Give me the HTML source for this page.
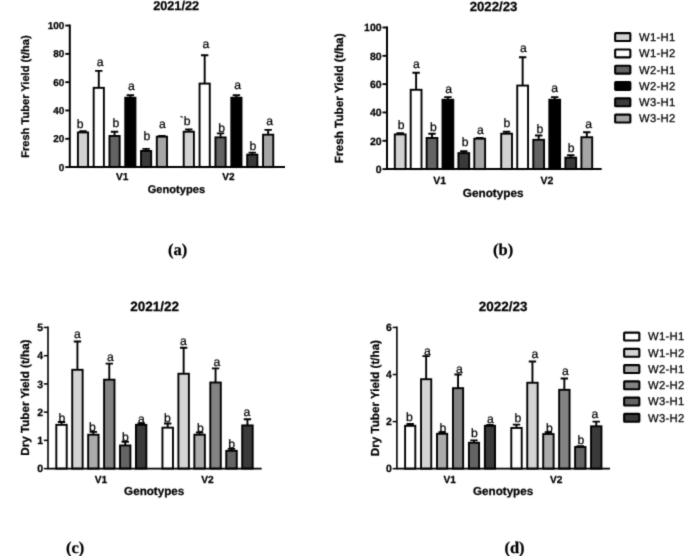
<!DOCTYPE html>
<html lang="en"><head><meta charset="utf-8"><title>Tuber yield charts</title>
<style>
html,body{margin:0;padding:0;background:#fff;}
body{width:685px;height:556px;overflow:hidden;}
svg{display:block;font-family:"Liberation Sans", Arial, sans-serif;fill:#000;text-rendering:geometricPrecision;}
text{stroke:#000;stroke-width:0.25px;}
</style></head><body>
<svg width="685" height="556" viewBox="0 0 685 556">
<defs><filter id="soft" x="0" y="0" width="685" height="556" filterUnits="userSpaceOnUse" color-interpolation-filters="sRGB"><feConvolveMatrix order="3" kernelMatrix="0.0192 0.1001 0.0192 0.1001 0.5228 0.1001 0.0192 0.1001 0.0192" divisor="1" edgeMode="duplicate" preserveAlpha="true"/></filter></defs>
<g filter="url(#soft)">
<rect width="685" height="556" fill="#fff"/>
<g>
<path d="M83.00 132.42V131.29M79.30 131.29H86.70" stroke="#000" stroke-width="1.9" fill="none"/>
<rect x="77.90" y="132.42" width="10.20" height="34.68" fill="#d2d2d2" stroke="#000" stroke-width="1.9"/>
<path d="M98.78 87.84V70.85M95.08 70.85H102.48" stroke="#000" stroke-width="1.9" fill="none"/>
<rect x="93.68" y="87.84" width="10.20" height="79.26" fill="#ffffff" stroke="#000" stroke-width="1.9"/>
<path d="M114.56 135.96V131.72M110.86 131.72H118.26" stroke="#000" stroke-width="1.9" fill="none"/>
<rect x="109.46" y="135.96" width="10.20" height="31.14" fill="#636363" stroke="#000" stroke-width="1.9"/>
<path d="M130.34 97.75V95.20M126.64 95.20H134.04" stroke="#000" stroke-width="1.9" fill="none"/>
<rect x="125.24" y="97.75" width="10.20" height="69.35" fill="#000000" stroke="#000" stroke-width="1.9"/>
<path d="M146.12 150.96V148.84M142.42 148.84H149.82" stroke="#000" stroke-width="1.9" fill="none"/>
<rect x="141.02" y="150.96" width="10.20" height="16.14" fill="#3a3a3a" stroke="#000" stroke-width="1.9"/>
<path d="M161.90 136.67V135.96M158.20 135.96H165.60" stroke="#000" stroke-width="1.9" fill="none"/>
<rect x="156.80" y="136.67" width="10.20" height="30.43" fill="#a6a6a6" stroke="#000" stroke-width="1.9"/>
<path d="M188.80 131.72V129.45M185.10 129.45H192.50" stroke="#000" stroke-width="1.9" fill="none"/>
<rect x="183.70" y="131.72" width="10.20" height="35.38" fill="#d2d2d2" stroke="#000" stroke-width="1.9"/>
<path d="M204.67 83.59V55.28M200.97 55.28H208.37" stroke="#000" stroke-width="1.9" fill="none"/>
<rect x="199.57" y="83.59" width="10.20" height="83.51" fill="#ffffff" stroke="#000" stroke-width="1.9"/>
<path d="M220.54 137.38V133.41M216.84 133.41H224.24" stroke="#000" stroke-width="1.9" fill="none"/>
<rect x="215.44" y="137.38" width="10.20" height="29.72" fill="#636363" stroke="#000" stroke-width="1.9"/>
<path d="M236.41 97.75V95.20M232.71 95.20H240.11" stroke="#000" stroke-width="1.9" fill="none"/>
<rect x="231.31" y="97.75" width="10.20" height="69.35" fill="#000000" stroke="#000" stroke-width="1.9"/>
<path d="M252.28 154.64V152.66M248.58 152.66H255.98" stroke="#000" stroke-width="1.9" fill="none"/>
<rect x="247.18" y="154.64" width="10.20" height="12.46" fill="#3a3a3a" stroke="#000" stroke-width="1.9"/>
<path d="M268.15 134.69V129.87M264.45 129.87H271.85" stroke="#000" stroke-width="1.9" fill="none"/>
<rect x="263.05" y="134.69" width="10.20" height="32.41" fill="#a6a6a6" stroke="#000" stroke-width="1.9"/>
<path d="M69.80 24.56V167.10M68.80 167.10H285.00" stroke="#000" stroke-width="2.0" fill="none"/>
<path d="M65.30 167.10H69.80" stroke="#000" stroke-width="1.90"/>
<text x="64.40" y="170.70" font-size="10.0" font-weight="700" text-anchor="end">0</text>
<path d="M65.30 138.79H69.80" stroke="#000" stroke-width="1.90"/>
<text x="64.40" y="142.39" font-size="10.0" font-weight="700" text-anchor="end">20</text>
<path d="M65.30 110.48H69.80" stroke="#000" stroke-width="1.90"/>
<text x="64.40" y="114.08" font-size="10.0" font-weight="700" text-anchor="end">40</text>
<path d="M65.30 82.18H69.80" stroke="#000" stroke-width="1.90"/>
<text x="64.40" y="85.78" font-size="10.0" font-weight="700" text-anchor="end">60</text>
<path d="M65.30 53.87H69.80" stroke="#000" stroke-width="1.90"/>
<text x="64.40" y="57.47" font-size="10.0" font-weight="700" text-anchor="end">80</text>
<path d="M65.30 25.56H69.80" stroke="#000" stroke-width="1.90"/>
<text x="64.40" y="29.16" font-size="10.0" font-weight="700" text-anchor="end">100</text>
<text x="176.1" y="10" font-size="12.7" font-weight="700" text-anchor="middle">2021/22</text>
<text transform="translate(29 96.6) rotate(-90)" font-size="11.1" font-weight="700" text-anchor="middle">Fresh Tuber Yield (t/ha)</text>
<text x="176.4" y="193" font-size="11.1" font-weight="700" text-anchor="middle">Genotypes</text>
<text x="122.2" y="180.4" font-size="10.1" font-weight="700" text-anchor="middle">V1</text>
<text x="228.5" y="180.4" font-size="10.1" font-weight="700" text-anchor="middle">V2</text>
<text x="80.2" y="127.5" font-size="12.2" text-anchor="middle" stroke="#000" stroke-width="0.25">b</text>
<text x="100.2" y="65.5" font-size="12.2" text-anchor="middle" stroke="#000" stroke-width="0.25">a</text>
<text x="115.8" y="127.4" font-size="12.2" text-anchor="middle" stroke="#000" stroke-width="0.25">b</text>
<text x="131.5" y="90" font-size="12.2" text-anchor="middle" stroke="#000" stroke-width="0.25">a</text>
<text x="147" y="140" font-size="12.2" text-anchor="middle" stroke="#000" stroke-width="0.25">b</text>
<text x="162.5" y="128.1" font-size="12.2" text-anchor="middle" stroke="#000" stroke-width="0.25">a</text>
<text x="185.2" y="124.7" font-size="12.2" text-anchor="middle" stroke="#000" stroke-width="0.25">`b</text>
<text x="205.9" y="47.5" font-size="12.2" text-anchor="middle" stroke="#000" stroke-width="0.25">a</text>
<text x="221.7" y="131.7" font-size="12.2" text-anchor="middle" stroke="#000" stroke-width="0.25">b</text>
<text x="237.7" y="89.2" font-size="12.2" text-anchor="middle" stroke="#000" stroke-width="0.25">a</text>
<text x="253" y="150" font-size="12.2" text-anchor="middle" stroke="#000" stroke-width="0.25">b</text>
<text x="269.7" y="124.9" font-size="12.2" text-anchor="middle" stroke="#000" stroke-width="0.25">a</text>
</g>
<g>
<path d="M400.20 134.41V133.28M396.50 133.28H403.90" stroke="#000" stroke-width="1.9" fill="none"/>
<rect x="394.80" y="134.41" width="10.80" height="34.69" fill="#d2d2d2" stroke="#000" stroke-width="1.9"/>
<path d="M416.10 89.80V72.81M412.40 72.81H419.80" stroke="#000" stroke-width="1.9" fill="none"/>
<rect x="410.70" y="89.80" width="10.80" height="79.30" fill="#ffffff" stroke="#000" stroke-width="1.9"/>
<path d="M432.00 137.95V133.70M428.30 133.70H435.70" stroke="#000" stroke-width="1.9" fill="none"/>
<rect x="426.60" y="137.95" width="10.80" height="31.15" fill="#636363" stroke="#000" stroke-width="1.9"/>
<path d="M447.90 99.72V97.17M444.20 97.17H451.60" stroke="#000" stroke-width="1.9" fill="none"/>
<rect x="442.50" y="99.72" width="10.80" height="69.38" fill="#000000" stroke="#000" stroke-width="1.9"/>
<path d="M463.80 153.10V151.12M460.10 151.12H467.50" stroke="#000" stroke-width="1.9" fill="none"/>
<rect x="458.40" y="153.10" width="10.80" height="16.00" fill="#3a3a3a" stroke="#000" stroke-width="1.9"/>
<path d="M479.70 138.66V137.95M476.00 137.95H483.40" stroke="#000" stroke-width="1.9" fill="none"/>
<rect x="474.30" y="138.66" width="10.80" height="30.44" fill="#a6a6a6" stroke="#000" stroke-width="1.9"/>
<path d="M506.60 133.70V131.72M502.90 131.72H510.30" stroke="#000" stroke-width="1.9" fill="none"/>
<rect x="501.20" y="133.70" width="10.80" height="35.40" fill="#d2d2d2" stroke="#000" stroke-width="1.9"/>
<path d="M522.64 85.56V57.24M518.94 57.24H526.34" stroke="#000" stroke-width="1.9" fill="none"/>
<rect x="517.24" y="85.56" width="10.80" height="83.54" fill="#ffffff" stroke="#000" stroke-width="1.9"/>
<path d="M538.68 139.79V135.54M534.98 135.54H542.38" stroke="#000" stroke-width="1.9" fill="none"/>
<rect x="533.28" y="139.79" width="10.80" height="29.31" fill="#636363" stroke="#000" stroke-width="1.9"/>
<path d="M554.72 99.72V97.17M551.02 97.17H558.42" stroke="#000" stroke-width="1.9" fill="none"/>
<rect x="549.32" y="99.72" width="10.80" height="69.38" fill="#000000" stroke="#000" stroke-width="1.9"/>
<path d="M570.76 157.63V155.22M567.06 155.22H574.46" stroke="#000" stroke-width="1.9" fill="none"/>
<rect x="565.36" y="157.63" width="10.80" height="11.47" fill="#3a3a3a" stroke="#000" stroke-width="1.9"/>
<path d="M586.80 137.24V132.28M583.10 132.28H590.50" stroke="#000" stroke-width="1.9" fill="none"/>
<rect x="581.40" y="137.24" width="10.80" height="31.86" fill="#a6a6a6" stroke="#000" stroke-width="1.9"/>
<path d="M387.00 26.50V169.10M386.00 169.10H601.70" stroke="#000" stroke-width="2.0" fill="none"/>
<path d="M382.50 169.10H387.00" stroke="#000" stroke-width="1.90"/>
<text x="381.60" y="172.88" font-size="10.5" font-weight="700" text-anchor="end">0</text>
<path d="M382.50 140.78H387.00" stroke="#000" stroke-width="1.90"/>
<text x="381.60" y="144.56" font-size="10.5" font-weight="700" text-anchor="end">20</text>
<path d="M382.50 112.46H387.00" stroke="#000" stroke-width="1.90"/>
<text x="381.60" y="116.24" font-size="10.5" font-weight="700" text-anchor="end">40</text>
<path d="M382.50 84.14H387.00" stroke="#000" stroke-width="1.90"/>
<text x="381.60" y="87.92" font-size="10.5" font-weight="700" text-anchor="end">60</text>
<path d="M382.50 55.82H387.00" stroke="#000" stroke-width="1.90"/>
<text x="381.60" y="59.60" font-size="10.5" font-weight="700" text-anchor="end">80</text>
<path d="M382.50 27.50H387.00" stroke="#000" stroke-width="1.90"/>
<text x="381.60" y="31.28" font-size="10.5" font-weight="700" text-anchor="end">100</text>
<text x="493.5" y="10.5" font-size="13.2" font-weight="700" text-anchor="middle">2022/23</text>
<text transform="translate(343.1 98.3) rotate(-90)" font-size="11.75" font-weight="700" text-anchor="middle">Fresh Tuber Yield (t/ha)</text>
<text x="493.2" y="197.3" font-size="11.75" font-weight="700" text-anchor="middle">Genotypes</text>
<text x="439.7" y="183.6" font-size="10.5" font-weight="700" text-anchor="middle">V1</text>
<text x="547" y="184" font-size="10.5" font-weight="700" text-anchor="middle">V2</text>
<text x="401.2" y="128.6" font-size="12.2" text-anchor="middle" stroke="#000" stroke-width="0.25">b</text>
<text x="416.5" y="67.7" font-size="12.2" text-anchor="middle" stroke="#000" stroke-width="0.25">a</text>
<text x="433.5" y="130.8" font-size="12.2" text-anchor="middle" stroke="#000" stroke-width="0.25">b</text>
<text x="448.7" y="92.9" font-size="12.2" text-anchor="middle" stroke="#000" stroke-width="0.25">a</text>
<text x="465.2" y="146.4" font-size="12.2" text-anchor="middle" stroke="#000" stroke-width="0.25">b</text>
<text x="480.3" y="133.7" font-size="12.2" text-anchor="middle" stroke="#000" stroke-width="0.25">a</text>
<text x="507" y="127.4" font-size="12.2" text-anchor="middle" stroke="#000" stroke-width="0.25">b</text>
<text x="523.4" y="51.9" font-size="12.2" text-anchor="middle" stroke="#000" stroke-width="0.25">a</text>
<text x="540" y="132.6" font-size="12.2" text-anchor="middle" stroke="#000" stroke-width="0.25">b</text>
<text x="554.7" y="91.7" font-size="12.2" text-anchor="middle" stroke="#000" stroke-width="0.25">a</text>
<text x="571.2" y="151.7" font-size="12.2" text-anchor="middle" stroke="#000" stroke-width="0.25">b</text>
<text x="588.7" y="128" font-size="12.2" text-anchor="middle" stroke="#000" stroke-width="0.25">a</text>
</g>
<g>
<rect x="615.15" y="33.15" width="15.2" height="7.9" rx="0.6" fill="#d2d2d2" stroke="#000" stroke-width="2.1"/>
<text x="639" y="40.90" font-size="11.3" letter-spacing="0.3" stroke="#000" stroke-width="0.2">W1-H1</text>
<rect x="615.15" y="49.45" width="15.2" height="7.9" rx="0.6" fill="#ffffff" stroke="#000" stroke-width="2.1"/>
<text x="639" y="57.20" font-size="11.3" letter-spacing="0.3" stroke="#000" stroke-width="0.2">W1-H2</text>
<rect x="615.15" y="65.75" width="15.2" height="7.9" rx="0.6" fill="#636363" stroke="#000" stroke-width="2.1"/>
<text x="639" y="73.50" font-size="11.3" letter-spacing="0.3" stroke="#000" stroke-width="0.2">W2-H1</text>
<rect x="615.15" y="82.05" width="15.2" height="7.9" rx="0.6" fill="#000000" stroke="#000" stroke-width="2.1"/>
<text x="639" y="89.80" font-size="11.3" letter-spacing="0.3" stroke="#000" stroke-width="0.2">W2-H2</text>
<rect x="615.15" y="98.35" width="15.2" height="7.9" rx="0.6" fill="#3a3a3a" stroke="#000" stroke-width="2.1"/>
<text x="639" y="106.10" font-size="11.3" letter-spacing="0.3" stroke="#000" stroke-width="0.2">W3-H1</text>
<rect x="615.15" y="114.65" width="15.2" height="7.9" rx="0.6" fill="#a6a6a6" stroke="#000" stroke-width="2.1"/>
<text x="639" y="122.40" font-size="11.3" letter-spacing="0.3" stroke="#000" stroke-width="0.2">W3-H2</text>
</g>
<g>
<path d="M61.50 424.84V422.02M57.80 422.02H65.20" stroke="#000" stroke-width="1.9" fill="none"/>
<rect x="56.30" y="424.84" width="10.40" height="43.76" fill="#ffffff" stroke="#000" stroke-width="1.9"/>
<path d="M77.43 369.80V341.56M73.73 341.56H81.13" stroke="#000" stroke-width="1.9" fill="none"/>
<rect x="72.23" y="369.80" width="10.40" height="98.81" fill="#d4d4d4" stroke="#000" stroke-width="1.9"/>
<path d="M93.36 434.72V431.90M89.66 431.90H97.06" stroke="#000" stroke-width="1.9" fill="none"/>
<rect x="88.16" y="434.72" width="10.40" height="33.88" fill="#ababab" stroke="#000" stroke-width="1.9"/>
<path d="M109.29 379.68V363.58M105.59 363.58H112.99" stroke="#000" stroke-width="1.9" fill="none"/>
<rect x="104.09" y="379.68" width="10.40" height="88.92" fill="#838383" stroke="#000" stroke-width="1.9"/>
<path d="M125.22 445.45V441.78M121.52 441.78H128.92" stroke="#000" stroke-width="1.9" fill="none"/>
<rect x="120.02" y="445.45" width="10.40" height="23.15" fill="#646464" stroke="#000" stroke-width="1.9"/>
<path d="M141.15 424.84V423.43M137.45 423.43H144.85" stroke="#000" stroke-width="1.9" fill="none"/>
<rect x="135.95" y="424.84" width="10.40" height="43.76" fill="#3a3a3a" stroke="#000" stroke-width="1.9"/>
<path d="M167.70 427.67V423.43M164.00 423.43H171.40" stroke="#000" stroke-width="1.9" fill="none"/>
<rect x="162.45" y="427.67" width="10.50" height="40.93" fill="#ffffff" stroke="#000" stroke-width="1.9"/>
<path d="M183.65 373.75V347.78M179.95 347.78H187.35" stroke="#000" stroke-width="1.9" fill="none"/>
<rect x="178.40" y="373.75" width="10.50" height="94.85" fill="#d4d4d4" stroke="#000" stroke-width="1.9"/>
<path d="M199.60 434.72V432.47M195.90 432.47H203.30" stroke="#000" stroke-width="1.9" fill="none"/>
<rect x="194.35" y="434.72" width="10.50" height="33.88" fill="#ababab" stroke="#000" stroke-width="1.9"/>
<path d="M215.55 382.50V368.38M211.85 368.38H219.25" stroke="#000" stroke-width="1.9" fill="none"/>
<rect x="210.30" y="382.50" width="10.50" height="86.10" fill="#838383" stroke="#000" stroke-width="1.9"/>
<path d="M231.50 450.82V448.84M227.80 448.84H235.20" stroke="#000" stroke-width="1.9" fill="none"/>
<rect x="226.25" y="450.82" width="10.50" height="17.78" fill="#646464" stroke="#000" stroke-width="1.9"/>
<path d="M247.45 425.41V419.20M243.75 419.20H251.15" stroke="#000" stroke-width="1.9" fill="none"/>
<rect x="242.20" y="425.41" width="10.50" height="43.19" fill="#3a3a3a" stroke="#000" stroke-width="1.9"/>
<path d="M48.00 326.45V468.60M47.20 468.60H261.70" stroke="#000" stroke-width="1.6" fill="none"/>
<path d="M43.80 468.60H48.00" stroke="#000" stroke-width="1.50"/>
<text x="43.00" y="472.38" font-size="10.5" font-weight="700" text-anchor="end">0</text>
<path d="M43.80 440.37H48.00" stroke="#000" stroke-width="1.50"/>
<text x="43.00" y="444.15" font-size="10.5" font-weight="700" text-anchor="end">1</text>
<path d="M43.80 412.14H48.00" stroke="#000" stroke-width="1.50"/>
<text x="43.00" y="415.92" font-size="10.5" font-weight="700" text-anchor="end">2</text>
<path d="M43.80 383.91H48.00" stroke="#000" stroke-width="1.50"/>
<text x="43.00" y="387.69" font-size="10.5" font-weight="700" text-anchor="end">3</text>
<path d="M43.80 355.68H48.00" stroke="#000" stroke-width="1.50"/>
<text x="43.00" y="359.46" font-size="10.5" font-weight="700" text-anchor="end">4</text>
<path d="M43.80 327.45H48.00" stroke="#000" stroke-width="1.50"/>
<text x="43.00" y="331.23" font-size="10.5" font-weight="700" text-anchor="end">5</text>
<text x="154.7" y="310.6" font-size="13.5" font-weight="700" text-anchor="middle">2021/22</text>
<text transform="translate(29.3 397.6) rotate(-90)" font-size="11.65" font-weight="700" text-anchor="middle">Dry Tuber Yield (t/ha)</text>
<text x="154.2" y="495" font-size="11.65" font-weight="700" text-anchor="middle">Genotypes</text>
<text x="101" y="482.8" font-size="10.2" font-weight="700" text-anchor="middle">V1</text>
<text x="207.5" y="482.8" font-size="10.2" font-weight="700" text-anchor="middle">V2</text>
<text x="62" y="422.2" font-size="12.2" text-anchor="middle" stroke="#000" stroke-width="0.25">b</text>
<text x="77.5" y="338.2" font-size="12.2" text-anchor="middle" stroke="#000" stroke-width="0.25">a</text>
<text x="92.5" y="431.2" font-size="12.2" text-anchor="middle" stroke="#000" stroke-width="0.25">b</text>
<text x="110.5" y="361.2" font-size="12.2" text-anchor="middle" stroke="#000" stroke-width="0.25">a</text>
<text x="125.3" y="441" font-size="12.2" text-anchor="middle" stroke="#000" stroke-width="0.25">b</text>
<text x="141.5" y="422.8" font-size="12.2" text-anchor="middle" stroke="#000" stroke-width="0.25">a</text>
<text x="167.5" y="421.5" font-size="12.2" text-anchor="middle" stroke="#000" stroke-width="0.25">b</text>
<text x="183.5" y="344.5" font-size="12.2" text-anchor="middle" stroke="#000" stroke-width="0.25">a</text>
<text x="200.5" y="431.7" font-size="12.2" text-anchor="middle" stroke="#000" stroke-width="0.25">b</text>
<text x="217" y="365.7" font-size="12.2" text-anchor="middle" stroke="#000" stroke-width="0.25">a</text>
<text x="231.7" y="448.2" font-size="12.2" text-anchor="middle" stroke="#000" stroke-width="0.25">b</text>
<text x="247" y="415.5" font-size="12.2" text-anchor="middle" stroke="#000" stroke-width="0.25">a</text>
</g>
<g>
<path d="M410.20 425.82V423.94M406.50 423.94H413.90" stroke="#000" stroke-width="1.9" fill="none"/>
<rect x="405.10" y="425.82" width="10.20" height="42.83" fill="#ffffff" stroke="#000" stroke-width="1.9"/>
<path d="M426.15 379.22V356.16M422.45 356.16H429.85" stroke="#000" stroke-width="1.9" fill="none"/>
<rect x="421.05" y="379.22" width="10.20" height="89.43" fill="#d4d4d4" stroke="#000" stroke-width="1.9"/>
<path d="M442.10 433.82V432.17M438.40 432.17H445.80" stroke="#000" stroke-width="1.9" fill="none"/>
<rect x="437.00" y="433.82" width="10.20" height="34.83" fill="#ababab" stroke="#000" stroke-width="1.9"/>
<path d="M458.05 388.17V374.52M454.35 374.52H461.75" stroke="#000" stroke-width="1.9" fill="none"/>
<rect x="452.95" y="388.17" width="10.20" height="80.48" fill="#838383" stroke="#000" stroke-width="1.9"/>
<path d="M474.00 442.76V440.41M470.30 440.41H477.70" stroke="#000" stroke-width="1.9" fill="none"/>
<rect x="468.90" y="442.76" width="10.20" height="25.89" fill="#646464" stroke="#000" stroke-width="1.9"/>
<path d="M489.95 425.82V424.88M486.25 424.88H493.65" stroke="#000" stroke-width="1.9" fill="none"/>
<rect x="484.85" y="425.82" width="10.20" height="42.83" fill="#3a3a3a" stroke="#000" stroke-width="1.9"/>
<path d="M516.50 427.94V424.64M512.80 424.64H520.20" stroke="#000" stroke-width="1.9" fill="none"/>
<rect x="511.30" y="427.94" width="10.40" height="40.71" fill="#ffffff" stroke="#000" stroke-width="1.9"/>
<path d="M532.45 382.75V361.57M528.75 361.57H536.15" stroke="#000" stroke-width="1.9" fill="none"/>
<rect x="527.25" y="382.75" width="10.40" height="85.90" fill="#d4d4d4" stroke="#000" stroke-width="1.9"/>
<path d="M548.40 434.06V432.17M544.70 432.17H552.10" stroke="#000" stroke-width="1.9" fill="none"/>
<rect x="543.20" y="434.06" width="10.40" height="34.59" fill="#ababab" stroke="#000" stroke-width="1.9"/>
<path d="M564.35 389.81V378.52M560.65 378.52H568.05" stroke="#000" stroke-width="1.9" fill="none"/>
<rect x="559.15" y="389.81" width="10.40" height="78.84" fill="#838383" stroke="#000" stroke-width="1.9"/>
<path d="M580.30 447.00V446.29M576.60 446.29H584.00" stroke="#000" stroke-width="1.9" fill="none"/>
<rect x="575.10" y="447.00" width="10.40" height="21.65" fill="#646464" stroke="#000" stroke-width="1.9"/>
<path d="M596.25 426.29V421.58M592.55 421.58H599.95" stroke="#000" stroke-width="1.9" fill="none"/>
<rect x="591.05" y="426.29" width="10.40" height="42.36" fill="#3a3a3a" stroke="#000" stroke-width="1.9"/>
<path d="M396.90 326.45V468.65M396.10 468.65H610.00" stroke="#000" stroke-width="1.6" fill="none"/>
<path d="M392.70 468.65H396.90" stroke="#000" stroke-width="1.50"/>
<text x="391.90" y="472.43" font-size="10.5" font-weight="700" text-anchor="end">0</text>
<path d="M392.70 421.58H396.90" stroke="#000" stroke-width="1.50"/>
<text x="391.90" y="425.36" font-size="10.5" font-weight="700" text-anchor="end">2</text>
<path d="M392.70 374.52H396.90" stroke="#000" stroke-width="1.50"/>
<text x="391.90" y="378.30" font-size="10.5" font-weight="700" text-anchor="end">4</text>
<path d="M392.70 327.45H396.90" stroke="#000" stroke-width="1.50"/>
<text x="391.90" y="331.23" font-size="10.5" font-weight="700" text-anchor="end">6</text>
<text x="503.1" y="310.6" font-size="13.45" font-weight="700" text-anchor="middle">2022/23</text>
<text transform="translate(379 398.1) rotate(-90)" font-size="11.65" font-weight="700" text-anchor="middle">Dry Tuber Yield (t/ha)</text>
<text x="503.1" y="495" font-size="11.65" font-weight="700" text-anchor="middle">Genotypes</text>
<text x="449.7" y="482.8" font-size="10.2" font-weight="700" text-anchor="middle">V1</text>
<text x="556.2" y="482.8" font-size="10.2" font-weight="700" text-anchor="middle">V2</text>
<text x="409.5" y="421.4" font-size="12.2" text-anchor="middle" stroke="#000" stroke-width="0.25">b</text>
<text x="427.5" y="355" font-size="12.2" text-anchor="middle" stroke="#000" stroke-width="0.25">a</text>
<text x="443" y="431.6" font-size="12.2" text-anchor="middle" stroke="#000" stroke-width="0.25">b</text>
<text x="459.3" y="373.2" font-size="12.2" text-anchor="middle" stroke="#000" stroke-width="0.25">a</text>
<text x="474.5" y="437" font-size="12.2" text-anchor="middle" stroke="#000" stroke-width="0.25">b</text>
<text x="490.5" y="422.8" font-size="12.2" text-anchor="middle" stroke="#000" stroke-width="0.25">a</text>
<text x="517.8" y="422.2" font-size="12.2" text-anchor="middle" stroke="#000" stroke-width="0.25">b</text>
<text x="535" y="358.2" font-size="12.2" text-anchor="middle" stroke="#000" stroke-width="0.25">a</text>
<text x="549.5" y="432.4" font-size="12.2" text-anchor="middle" stroke="#000" stroke-width="0.25">b</text>
<text x="565.5" y="374.7" font-size="12.2" text-anchor="middle" stroke="#000" stroke-width="0.25">a</text>
<text x="581" y="444.4" font-size="12.2" text-anchor="middle" stroke="#000" stroke-width="0.25">b</text>
<text x="595" y="417.6" font-size="12.2" text-anchor="middle" stroke="#000" stroke-width="0.25">a</text>
</g>
<g>
<rect x="624.15" y="332.65" width="15.2" height="7.9" rx="0.6" fill="#ffffff" stroke="#000" stroke-width="2.1"/>
<text x="648" y="340.40" font-size="11.3" letter-spacing="0.3" stroke="#000" stroke-width="0.2">W1-H1</text>
<rect x="624.15" y="348.90" width="15.2" height="7.9" rx="0.6" fill="#d4d4d4" stroke="#000" stroke-width="2.1"/>
<text x="648" y="356.65" font-size="11.3" letter-spacing="0.3" stroke="#000" stroke-width="0.2">W1-H2</text>
<rect x="624.15" y="365.15" width="15.2" height="7.9" rx="0.6" fill="#ababab" stroke="#000" stroke-width="2.1"/>
<text x="648" y="372.90" font-size="11.3" letter-spacing="0.3" stroke="#000" stroke-width="0.2">W2-H1</text>
<rect x="624.15" y="381.40" width="15.2" height="7.9" rx="0.6" fill="#838383" stroke="#000" stroke-width="2.1"/>
<text x="648" y="389.15" font-size="11.3" letter-spacing="0.3" stroke="#000" stroke-width="0.2">W2-H2</text>
<rect x="624.15" y="397.65" width="15.2" height="7.9" rx="0.6" fill="#646464" stroke="#000" stroke-width="2.1"/>
<text x="648" y="405.40" font-size="11.3" letter-spacing="0.3" stroke="#000" stroke-width="0.2">W3-H1</text>
<rect x="624.15" y="413.90" width="15.2" height="7.9" rx="0.6" fill="#3a3a3a" stroke="#000" stroke-width="2.1"/>
<text x="648" y="421.65" font-size="11.3" letter-spacing="0.3" stroke="#000" stroke-width="0.2">W3-H2</text>
</g>
<g>
<text x="177.6" y="255.3" font-family='"Liberation Serif", "Times New Roman", serif' font-size="16.5" font-weight="700" text-anchor="middle">(a)</text>
<text x="503.1" y="255.3" font-family='"Liberation Serif", "Times New Roman", serif' font-size="16.5" font-weight="700" text-anchor="middle">(b)</text>
<text x="75.1" y="553" font-family='"Liberation Serif", "Times New Roman", serif' font-size="16.5" font-weight="700" text-anchor="middle">(c)</text>
<text x="514.5" y="553" font-family='"Liberation Serif", "Times New Roman", serif' font-size="16.5" font-weight="700" text-anchor="middle">(d)</text>
</g>
</g>
</svg>
</body></html>
